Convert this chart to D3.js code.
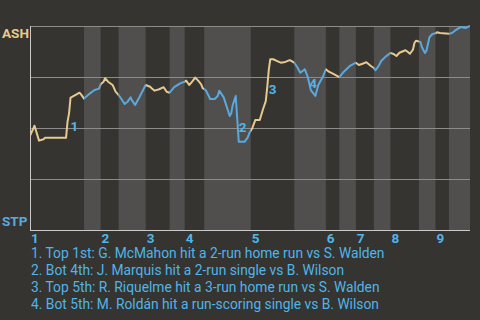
<!DOCTYPE html>
<html>
<head>
<meta charset="utf-8">
<script src="https://cdn.jsdelivr.net/npm/d3@7"></script>
<style>
  html, body { margin: 0; padding: 0; background: #363430; }
  svg { display: block; font-family: Roboto, "Open Sans", sans-serif; }
</style>
</head>
<body>
<svg width="480" height="320"></svg>
<script>
// win probability for ASH (%), by pitch of the game
const wpPoints = [
  [0,46.1],[3,51.1],[6,43.8],[9,44.5],[10,45.2],[24,45.2],[25,53.1],[26,57.2],[27,64.9],[28,65.3],
  [31,66.5],[33,67.3],[34,66.5],[36,64.4],[40,67.0],[43,68.6],[46,69.3],[47,71.4],[49,72.7],[50,74.4],
  [52,72.7],[55,71.1],[57,67.8],[59,66.2],[61,64.1],[63,61.8],[65,62.9],[67,65.0],[68,63.4],[70,61.3],
  [73,65.3],[77,71.1],[80,70.2],[81,69.5],[83,68.3],[86,69.0],[89,70.0],[91,67.8],[93,67.3],[96,70.0],
  [100,71.9],[103,72.7],[104,73.2],[106,71.1],[108,72.7],[110,74.7],[112,73.2],[114,71.4],[115,69.5],
  [117,68.6],[119,65.7],[120,64.2],[123,64.2],[125,65.7],[126,68.3],[129,65.0],[131,60.4],[133,55.9],
  [134,57.2],[135,61.3],[137,65.7],[139,43.3],[143,43.3],[145,45.4],[146,47.4],[148,49.9],[150,53.9],
  [153,53.9],[155,58.8],[157,63.2],[158,70.2],[159,78.4],[160,83.7],[162,83.7],[165,82.7],[167,82.0],
  [170,82.4],[173,83.3],[176,82.0],[178,79.8],[180,77.1],[183,78.8],[185,74.9],[187,68.6],[190,65.7],
  [192,71.1],[195,75.1],[197,78.8],[199,77.6],[202,76.5],[206,74.9],[209,77.6],[213,80.4],[217,82.0],
  [219,80.9],[221,81.4],[224,82.2],[227,80.4],[229,79.4],[230,78.3],[232,80.2],[234,83.0],[237,85.1],
  [240,86.8],[242,86.3],[244,85.3],[246,86.9],[250,88.1],[251,87.6],[253,86.4],[255,88.4],[256,91.7],
  [257,92.8],[260,92.2],[261,89.6],[263,86.8],[264,87.9],[265,91.2],[266,94.5],[268,96.1],[270,96.4],
  [271,96.9],[273,96.6],[279,96.2],[281,96.6],[283,97.7],[285,98.7],[287,99.5],[290,99.0],[291,99.4],
  [293,100]
];

// pitch where each half inning starts (top 1, bot 1, top 2, ...), last = end of game
const halfStarts = [0,36,47,59,77,93,103,116,147,176,197,206,217,229,240,259,270,279,293];
const innings = ["1","2","3","4","5","6","7","8","9"];

const gridValues = [0, 25, 50, 75, 100];

const events = [
  { label: "1", pitch: 25, wp: 51 },
  { label: "2", pitch: 137, wp: 50.5 },
  { label: "3", pitch: 157, wp: 68.9 },
  { label: "4", pitch: 184, wp: 71.8 }
];
const captions = [
  "1. Top 1st: G. McMahon hit a 2-run home run vs S. Walden",
  "2. Bot 4th: J. Marquis hit a 2-run single vs B. Wilson",
  "3. Top 5th: R. Riquelme hit a 3-run home run vs S. Walden",
  "4. Bot 5th: M. Roldán hit a run-scoring single vs B. Wilson"
];

const awayColor = "#e5c98e";
const homeColor = "#5ba8df";
const labelColor = "#4fb5ea";

const svg = d3.select("svg");
const margin = { left: 30, right: 10, top: 26, bottom: 90 };
const width = 480, height = 320;

const x = d3.scaleLinear()
    .domain([0, halfStarts[halfStarts.length - 1]])
    .range([margin.left, width - margin.right]);
const y = d3.scaleLinear()
    .domain([0, 100])
    .range([height - margin.bottom, margin.top]);

// half inning bands
const halves = halfStarts.slice(0, -1).map((s, i) => ({ start: s, end: halfStarts[i + 1], bottom: i % 2 === 1 }));

svg.append("g").selectAll("rect")
    .data(halves.filter(d => d.bottom))
    .join("rect")
    .attr("x", d => x(d.start))
    .attr("width", d => x(d.end) - x(d.start))
    .attr("y", y(100))
    .attr("height", y(0) - y(100))
    .attr("fill", "#504f4d");

// grid
svg.append("g").selectAll("line")
    .data(gridValues)
    .join("line")
    .attr("x1", x.range()[0])
    .attr("x2", x.range()[1])
    .attr("y1", d => y(d) + 0.5)
    .attr("y2", d => y(d) + 0.5)
    .attr("stroke", d => d === 0 ? "#c9c9c9" : "#8c8c8a")
    .attr("stroke-width", 1);

svg.append("line")
    .attr("x1", x.range()[0] + 0.5)
    .attr("x2", x.range()[0] + 0.5)
    .attr("y1", y(100))
    .attr("y2", y(0) + 1)
    .attr("stroke", "#c9c9c9");

// clip paths per half inning so the line takes the batting team's colour
const defs = svg.append("defs");
halves.forEach((h, i) => {
  defs.append("clipPath").attr("id", "half" + i)
    .append("rect")
    .attr("x", x(h.start))
    .attr("width", x(h.end) - x(h.start))
    .attr("y", 0)
    .attr("height", height);
});

const line = d3.line()
    .x(d => x(d[0]))
    .y(d => y(d[1]));

svg.append("g").selectAll("path")
    .data(halves)
    .join("path")
    .attr("clip-path", (d, i) => `url(#half${i})`)
    .attr("d", line(wpPoints))
    .attr("fill", "none")
    .attr("stroke", d => d.bottom ? homeColor : awayColor)
    .attr("stroke-width", 2)
    .attr("stroke-linejoin", "round");

// event markers
svg.append("g").selectAll("text")
    .data(events)
    .join("text")
    .attr("x", d => x(d.pitch) + 3)
    .attr("y", d => y(d.wp))
    .attr("dy", "0.36em")
    .attr("fill", labelColor)
    .attr("font-size", 13.5)
    .attr("font-weight", "bold")
    .text(d => d.label);

// team labels
svg.append("text")
    .attr("x", 2).attr("y", y(100) + 7).attr("dy", "0.36em")
    .attr("fill", awayColor).attr("font-size", 13.5).attr("font-weight", "bold")
    .text("ASH");
svg.append("text")
    .attr("x", 2).attr("y", y(0) - 9).attr("dy", "0.36em")
    .attr("fill", homeColor).attr("font-size", 13.5).attr("font-weight", "bold")
    .text("STP");

// inning labels
svg.append("g").selectAll("text")
    .data(innings)
    .join("text")
    .attr("x", (d, i) => x(halfStarts[i * 2]) + 1)
    .attr("y", y(0) + 13)
    .attr("fill", labelColor)
    .attr("font-size", 13.5)
    .attr("font-weight", "bold")
    .text(d => d);

// captions
svg.append("g").selectAll("text")
    .data(captions)
    .join("text")
    .attr("x", 31)
    .attr("y", (d, i) => 258 + i * 17)
    .attr("fill", labelColor)
    .attr("font-size", 13.8)
    .text(d => d);
</script>
</body>
</html>
